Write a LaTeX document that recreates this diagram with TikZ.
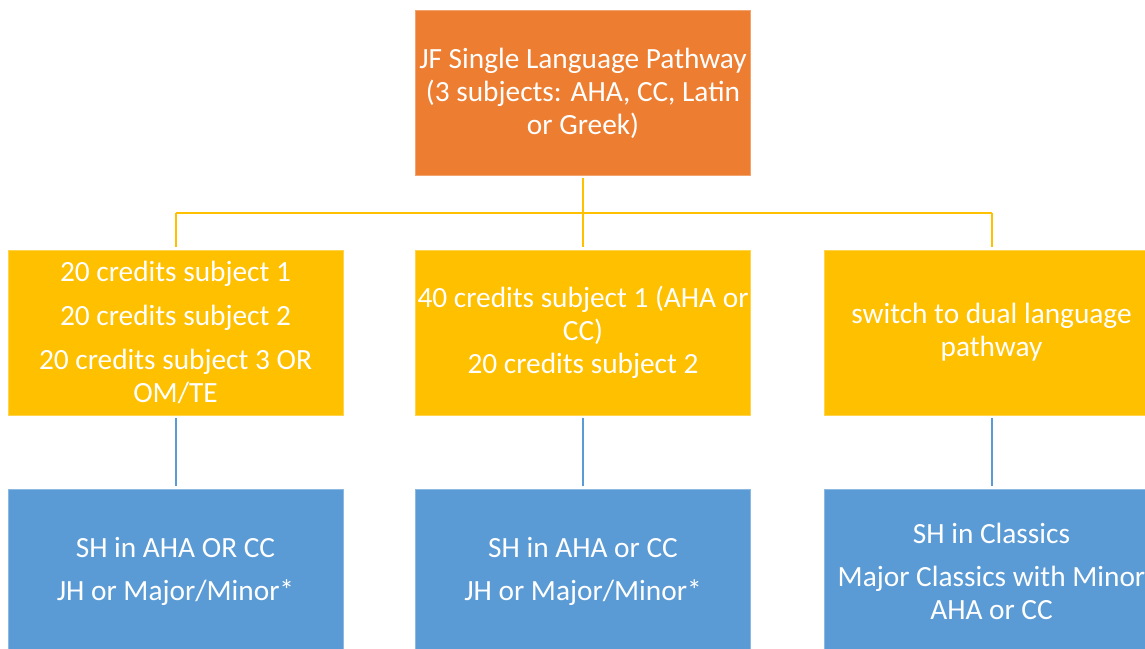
\documentclass[tikz,border=0pt]{standalone}
\usepackage{fontspec}
\setmainfont{Carlito}
\usepackage{tikz}

\definecolor{orng}{HTML}{ED7D31}
\definecolor{gold}{HTML}{FFC000}
\definecolor{sky}{HTML}{5B9BD5}

\tikzset{
  box/.style={fill=#1, draw=#1!70!white, line width=0.5pt, minimum width=251.25pt,
    minimum height=123.75pt, inner sep=0pt, align=center, text=white,
    font=\fontsize{22}{24.75}\selectfont},
  goldline/.style={draw=gold, line width=1.5pt},
  skyline/.style={draw=sky, line width=1.5pt, shorten <=2pt, shorten >=2pt}
}

\begin{document}
\begin{tikzpicture}[x=0.75pt, y=-0.75pt]
\clip (0,0) rectangle (1145,649);
% top
\node[box=orng] (jf) at (583,93) {JF Single Language Pathway\\(3 subjects: AHA, CC, Latin\\or Greek)};
% second row
\node[box=gold] (y1) at (175.5,332.5) {20 credits subject 1\\[8pt]20 credits subject 2\\[8pt]20 credits subject 3 OR\\OM/TE};
\node[box=gold] (y2) at (583,332.5) {40 credits subject 1 (AHA or\\CC)\\20 credits subject 2};
\node[box=gold] (y3) at (991.5,332.5) {switch to dual language\\pathway};
% third row
\node[box=sky] (b1) at (175.5,571.5) {SH in AHA OR CC\\[8pt]JH or Major/Minor*};
\node[box=sky] (b2) at (583,571.5) {SH in AHA or CC\\[8pt]JH or Major/Minor*};
\node[box=sky] (b3) at (991.5,571.5) {SH in Classics\\[8pt]Major Classics with Minor\\AHA or CC};
% connectors
\coordinate (bus) at (583,213);
\draw[goldline, shorten <=2pt, shorten >=2pt] (jf.south) -- (y2.north);
\draw[goldline] (y1.north |- bus) -- (y3.north |- bus);
\draw[goldline, shorten >=2pt] (y1.north |- bus) -- (y1.north);
\draw[goldline, shorten >=2pt] (y3.north |- bus) -- (y3.north);
\draw[skyline] (y1.south) -- (b1.north);
\draw[skyline] (y2.south) -- (b2.north);
\draw[skyline] (y3.south) -- (b3.north);
\end{tikzpicture}
\end{document}
